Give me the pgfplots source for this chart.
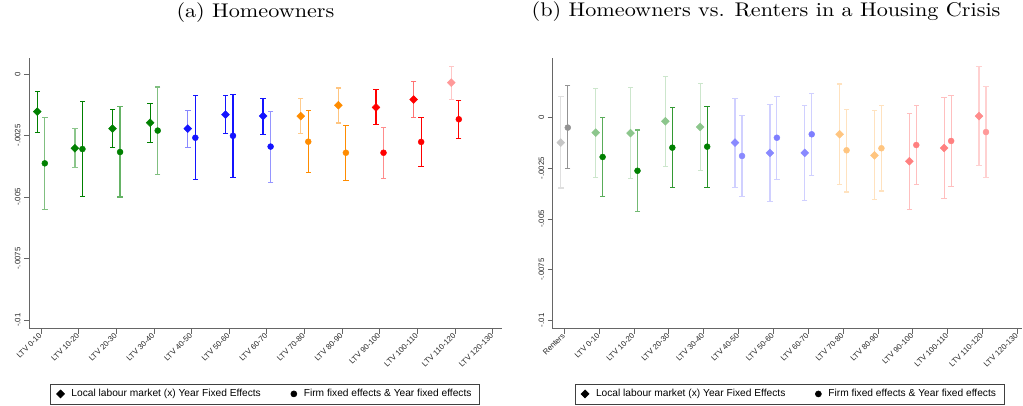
\documentclass[border=0pt]{standalone}
\usepackage{fontspec}
\setsansfont{Liberation Sans}
\newfontfamily\titlefont{lmroman10-regular}[Extension=.otf, FakeStretch=1.12]
\usepackage{pgfplots}
\pgfplotsset{compat=1.18}

\definecolor{cG}{RGB}{0,128,0}
\definecolor{cB}{RGB}{20,20,255}
\definecolor{cO}{RGB}{255,140,0}
\definecolor{cR}{RGB}{255,0,0}
\definecolor{cY}{RGB}{128,128,128}

\pgfplotsset{
  base/.style={
    scale only axis, anchor=south west, clip=false,
    axis x line*=bottom, axis y line*=left,
    axis line style={-, black!60, line width=0.8pt},
    tick align=outside, major tick length=5pt,
    tick style={black!60, line width=0.8pt},
    ytick={-0.01,-0.0075,-0.005,-0.0025,0},
    yticklabels={-.01,-.0075,-.005,-.0025,0},
    scaled y ticks=false,
    yticklabel style={rotate=90, anchor=south, font=\sffamily\fontsize{7.8}{8}\selectfont, text=black!85},
    xticklabel style={rotate=45, anchor=east, font=\sffamily\fontsize{7.8}{8}\selectfont, text=black!85, inner sep=1pt},
    title style={font=\titlefont\fontsize{19.8}{22}\selectfont, anchor=base, yshift=0pt},
    legend columns=2, legend cell align=left,
    legend style={anchor=north, draw=black!75, line width=0.6pt,
      font=\sffamily\fontsize{10.2}{12}\selectfont,
      inner xsep=6pt, inner ysep=3.5pt,
      /tikz/every odd column/.append style={column sep=5pt},
      /tikz/every even column/.append style={column sep=28pt}},
  },
  ci/.style={forget plot, line width=1.2pt, mark=-, mark size=2.7pt, mark options={solid, line width=1.1pt}},
  dm/.style={forget plot, only marks, mark=square*, mark size=2.8pt, mark options={rotate=45}},
  cm/.style={forget plot, only marks, mark=*, mark size=3pt},
}

\begin{document}
\begin{tikzpicture}
\path[use as bounding box] (0pt,0pt) rectangle (1023pt,405pt);

% ---------------- (a) Homeowners ----------------
\begin{axis}[base,
  at={(29pt,76.3pt)}, width=472.7pt, height=270.7pt,
  xmin=-0.32, xmax=12.24, ymin=-0.01035, ymax=0.00065,
  xtick={0,...,12},
  xticklabels={LTV 0-10,LTV 10-20,LTV 20-30,LTV 30-40,LTV 40-50,LTV 50-60,LTV 60-70,LTV 70-80,LTV 80-90,LTV 90-100,LTV 100-110,LTV 110-120,LTV 120-130},
  title={(a) Homeowners}, title style={at={(0.479,1.129)}},
  legend style={at={(0.4993,-0.203)}},
]
\addlegendimage{only marks, mark=square*, mark size=2.8pt, mark options={rotate=45}, black}
\addlegendimage{only marks, mark=*, mark size=3pt, black}
% cat 0
\addplot[ci, color=cG]    coordinates {(-0.1,-0.00236) (-0.1,-0.00070)};
\addplot[ci, color=cG!50] coordinates {(0.1,-0.00552) (0.1,-0.00175)};
\addplot[dm, color=cG] coordinates {(-0.1,-0.00153)};
\addplot[cm, color=cG] coordinates {(0.1,-0.00363)};
% cat 1
\addplot[ci, color=cG!45] coordinates {(0.9,-0.00379) (0.9,-0.00222)};
\addplot[ci, color=cG]    coordinates {(1.1,-0.00497) (1.1,-0.00113)};
\addplot[dm, color=cG] coordinates {(0.9,-0.00302)};
\addplot[cm, color=cG] coordinates {(1.1,-0.00305)};
% cat 2
\addplot[ci, color=cG]    coordinates {(1.9,-0.00298) (1.9,-0.00146)};
\addplot[ci, color=cG!60] coordinates {(2.1,-0.00500) (2.1,-0.00133)};
\addplot[dm, color=cG] coordinates {(1.9,-0.00222)};
\addplot[cm, color=cG] coordinates {(2.1,-0.00317)};
% cat 3
\addplot[ci, color=cG]    coordinates {(2.9,-0.00278) (2.9,-0.00119)};
\addplot[ci, color=cG!50] coordinates {(3.1,-0.00408) (3.1,-0.00053)};
\addplot[dm, color=cG] coordinates {(2.9,-0.00198)};
\addplot[cm, color=cG] coordinates {(3.1,-0.00230)};
% cat 4
\addplot[ci, color=cB!50] coordinates {(3.9,-0.00300) (3.9,-0.00148)};
\addplot[ci, color=cB]    coordinates {(4.1,-0.00430) (4.1,-0.00087)};
\addplot[dm, color=cB] coordinates {(3.9,-0.00222)};
\addplot[cm, color=cB] coordinates {(4.1,-0.00259)};
% cat 5
\addplot[ci, color=cB]    coordinates {(4.9,-0.00243) (4.9,-0.00088)};
\addplot[ci, color=cB]    coordinates {(5.1,-0.00419) (5.1,-0.00083)};
\addplot[dm, color=cB] coordinates {(4.9,-0.00165)};
\addplot[cm, color=cB] coordinates {(5.1,-0.00251)};
% cat 6
\addplot[ci, color=cB]    coordinates {(5.9,-0.00245) (5.9,-0.00099)};
\addplot[ci, color=cB!45] coordinates {(6.1,-0.00440) (6.1,-0.00152)};
\addplot[dm, color=cB] coordinates {(5.9,-0.00171)};
\addplot[cm, color=cB] coordinates {(6.1,-0.00295)};
% cat 7
\addplot[ci, color=cO!45] coordinates {(6.9,-0.00241) (6.9,-0.00100)};
\addplot[ci, color=cO]    coordinates {(7.1,-0.00400) (7.1,-0.00149)};
\addplot[dm, color=cO] coordinates {(6.9,-0.00171)};
\addplot[cm, color=cO] coordinates {(7.1,-0.00275)};
% cat 8
\addplot[ci, color=cO!50] coordinates {(7.9,-0.00199) (7.9,-0.00057)};
\addplot[ci, color=cO]    coordinates {(8.1,-0.00431) (8.1,-0.00210)};
\addplot[dm, color=cO] coordinates {(7.9,-0.00127)};
\addplot[cm, color=cO] coordinates {(8.1,-0.00320)};
% cat 9
\addplot[ci, color=cR]    coordinates {(8.9,-0.00207) (8.9,-0.00064)};
\addplot[ci, color=cR!45] coordinates {(9.1,-0.00423) (9.1,-0.00218)};
\addplot[dm, color=cR] coordinates {(8.9,-0.00136)};
\addplot[cm, color=cR] coordinates {(9.1,-0.00320)};
% cat 10
\addplot[ci, color=cR!55] coordinates {(9.9,-0.00178) (9.9,-0.00031)};
\addplot[ci, color=cR]    coordinates {(10.1,-0.00375) (10.1,-0.00178)};
\addplot[dm, color=cR] coordinates {(9.9,-0.00104)};
\addplot[cm, color=cR] coordinates {(10.1,-0.00276)};
% cat 11
\addplot[ci, color=cR!22] coordinates {(10.9,-0.00102) (10.9,0.00031)};
\addplot[ci, color=cR]    coordinates {(11.1,-0.00262) (11.1,-0.00108)};
\addplot[dm, color=cR!40] coordinates {(10.9,-0.00035)};
\addplot[cm, color=cR] coordinates {(11.1,-0.00184)};
\legend{Local labour market (x) Year Fixed Effects, Firm fixed effects \& Year fixed effects}
\end{axis}

% ---------------- (b) Homeowners vs. Renters ----------------
\begin{axis}[base,
  at={(552.7pt,76.3pt)}, width=469pt, height=270.4pt,
  xmin=-0.333, xmax=13.125, ymin=-0.010415, ymax=0.00293,
  xtick={0,...,13},
  xticklabels={Renters,LTV 0-10,LTV 10-20,LTV 20-30,LTV 30-40,LTV 40-50,LTV 50-60,LTV 60-70,LTV 70-80,LTV 80-90,LTV 90-100,LTV 100-110,LTV 110-120,LTV 120-130},
  title={(b) Homeowners vs. Renters in a Housing Crisis}, title style={at={(0.455,1.1306)}},
  legend style={at={(0.505,-0.2034)}},
]
\addlegendimage{only marks, mark=square*, mark size=2.8pt, mark options={rotate=45}, black}
\addlegendimage{only marks, mark=*, mark size=3pt, black}
% renters
\addplot[ci, color=cY!25] coordinates {(-0.1,-0.00347) (-0.1,0.00106)};
\addplot[ci, color=cY!85] coordinates {(0.1,-0.00253) (0.1,0.00157)};
\addplot[dm, color=cY!45] coordinates {(-0.1,-0.00123)};
\addplot[cm, color=cY!85] coordinates {(0.1,-0.00049)};
% LTV 0-10
\addplot[ci, color=cG!20] coordinates {(0.9,-0.00294) (0.9,0.00145)};
\addplot[ci, color=cG!65] coordinates {(1.1,-0.00390) (1.1,0.00003)};
\addplot[dm, color=cG!45] coordinates {(0.9,-0.00074)};
\addplot[cm, color=cG] coordinates {(1.1,-0.00194)};
% LTV 10-20
\addplot[ci, color=cG!20] coordinates {(1.9,-0.00299) (1.9,0.00148)};
\addplot[ci, color=cG!55] coordinates {(2.1,-0.00462) (2.1,-0.00061)};
\addplot[dm, color=cG!45] coordinates {(1.9,-0.00076)};
\addplot[cm, color=cG] coordinates {(2.1,-0.00262)};
% LTV 20-30
\addplot[ci, color=cG!20] coordinates {(2.9,-0.00240) (2.9,0.00204)};
\addplot[ci, color=cG!80] coordinates {(3.1,-0.00344) (3.1,0.00051)};
\addplot[dm, color=cG!45] coordinates {(2.9,-0.00018)};
\addplot[cm, color=cG] coordinates {(3.1,-0.00148)};
% LTV 30-40
\addplot[ci, color=cG!20] coordinates {(3.9,-0.00260) (3.9,0.00170)};
\addplot[ci, color=cG!85] coordinates {(4.1,-0.00344) (4.1,0.00056)};
\addplot[dm, color=cG!45] coordinates {(3.9,-0.00046)};
\addplot[cm, color=cG] coordinates {(4.1,-0.00143)};
% LTV 40-50
\addplot[ci, color=cB!20] coordinates {(4.9,-0.00344) (4.9,0.00096)};
\addplot[ci, color=cB!20] coordinates {(5.1,-0.00390) (5.1,0.00012)};
\addplot[dm, color=cB!50] coordinates {(4.9,-0.00123)};
\addplot[cm, color=cB!50] coordinates {(5.1,-0.00189)};
% LTV 50-60
\addplot[ci, color=cB!20] coordinates {(5.9,-0.00413) (5.9,0.00064)};
\addplot[ci, color=cB!20] coordinates {(6.1,-0.00303) (6.1,0.00106)};
\addplot[dm, color=cB!50] coordinates {(5.9,-0.00174)};
\addplot[cm, color=cB!55] coordinates {(6.1,-0.00099)};
% LTV 60-70
\addplot[ci, color=cB!20] coordinates {(6.9,-0.00410) (6.9,0.00061)};
\addplot[ci, color=cB!20] coordinates {(7.1,-0.00284) (7.1,0.00120)};
\addplot[dm, color=cB!50] coordinates {(6.9,-0.00174)};
\addplot[cm, color=cB!55] coordinates {(7.1,-0.00082)};
% LTV 70-80
\addplot[ci, color=cO!25] coordinates {(7.9,-0.00332) (7.9,0.00166)};
\addplot[ci, color=cO!25] coordinates {(8.1,-0.00367) (8.1,0.00042)};
\addplot[dm, color=cO!50] coordinates {(7.9,-0.00082)};
\addplot[cm, color=cO!50] coordinates {(8.1,-0.00161)};
% LTV 80-90
\addplot[ci, color=cO!25] coordinates {(8.9,-0.00405) (8.9,0.00037)};
\addplot[ci, color=cO!25] coordinates {(9.1,-0.00362) (9.1,0.00059)};
\addplot[dm, color=cO!50] coordinates {(8.9,-0.00186)};
\addplot[cm, color=cO!50] coordinates {(9.1,-0.00151)};
% LTV 90-100
\addplot[ci, color=cR!25] coordinates {(9.9,-0.00452) (9.9,0.00022)};
\addplot[ci, color=cR!25] coordinates {(10.1,-0.00332) (10.1,0.00061)};
\addplot[dm, color=cR!50] coordinates {(9.9,-0.00215)};
\addplot[cm, color=cR!50] coordinates {(10.1,-0.00135)};
% LTV 100-110
\addplot[ci, color=cR!25] coordinates {(10.9,-0.00398) (10.9,0.00099)};
\addplot[ci, color=cR!25] coordinates {(11.1,-0.00339) (11.1,0.00109)};
\addplot[dm, color=cR!50] coordinates {(10.9,-0.00150)};
\addplot[cm, color=cR!50] coordinates {(11.1,-0.00115)};
% LTV 110-120
\addplot[ci, color=cR!18] coordinates {(11.9,-0.00237) (11.9,0.00254)};
\addplot[ci, color=cR!18] coordinates {(12.1,-0.00294) (12.1,0.00152)};
\addplot[dm, color=cR!45] coordinates {(11.9,0.00008)};
\addplot[cm, color=cR!40] coordinates {(12.1,-0.00071)};
\legend{Local labour market (x) Year Fixed Effects, Firm fixed effects \& Year fixed effects}
\end{axis}
\end{tikzpicture}
\end{document}
